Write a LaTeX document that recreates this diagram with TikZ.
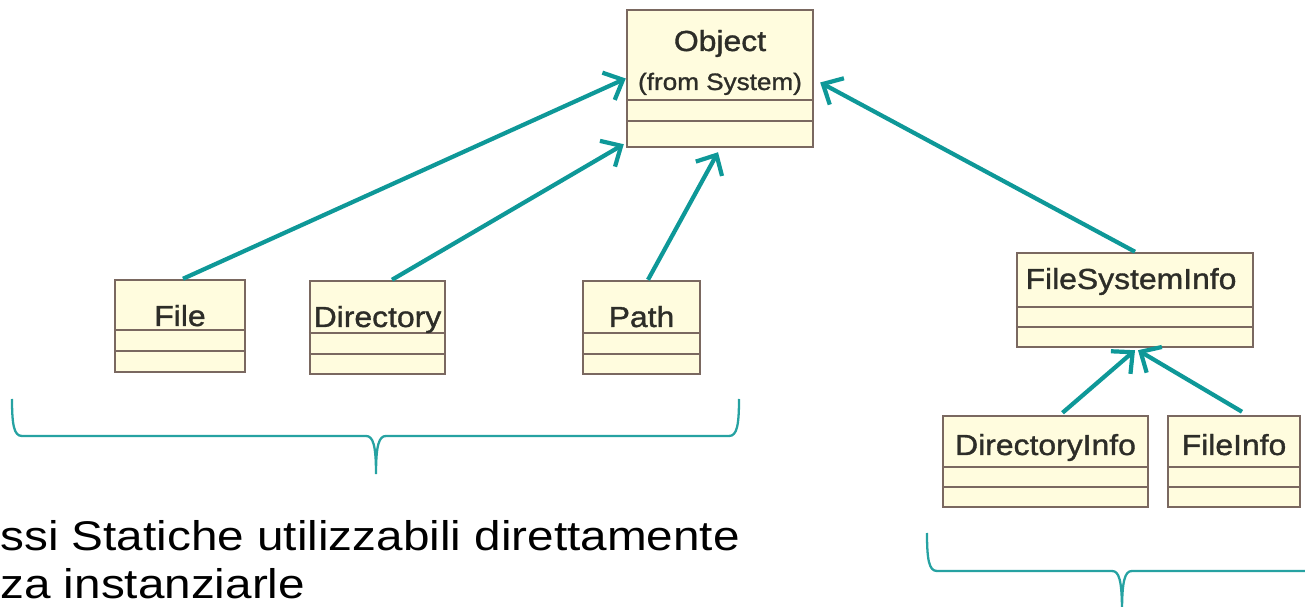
\documentclass[tikz,border=0pt]{standalone}
\usepackage{fontspec}
\setmainfont{Liberation Sans}[FakeStretch=1.15]
\newfontfamily\umlfont{Liberation Sans}[FakeStretch=1.1,FakeBold=1.2]
\usetikzlibrary{arrows.meta,calc,fit}
\definecolor{LinkTeal}{RGB}{14,152,152}
\definecolor{ClassFill}{RGB}{255,252,222}
\definecolor{ClassEdge}{RGB}{122,104,96}
\definecolor{ClassText}{RGB}{45,45,40}

\begin{document}
\begin{tikzpicture}[x=0.02cm,y=-0.02cm,>={Straight Barb[length=9pt,width=17pt]},
  umlbox/.style={draw=ClassEdge,fill=ClassFill,line width=1.4pt,inner sep=0pt},
  umlline/.style={draw=ClassEdge,line width=1.4pt},
  umltext/.style={anchor=base,inner sep=0pt,text=ClassText,font=\umlfont\fontsize{16.5}{19}\selectfont},
  inherit/.style={->,draw=LinkTeal,line width=2.4pt},
  brace/.style={draw=LinkTeal!90!white,line width=1.3pt},
  note/.style={anchor=base west,inner sep=0pt,font=\fontsize{23.6}{28}\selectfont}]
  \clip (0,0) rectangle (1305,607);
  % class boxes
  \node[umlbox,fit={(627,10) (813,147)}] (obj) {};
  \draw[umlline] (obj.west |- 0,100) -- (obj.east |- 0,100) (obj.west |- 0,121) -- (obj.east |- 0,121);
  \node[umltext] (objName) at (720,51) {Object};
  \node[umltext,font=\umlfont\fontsize{13.5}{16}\selectfont] (objFrom) at (720,90) {(from System)};

  \node[umlbox,fit={(115,280) (245,372)}] (file) {};
  \draw[umlline] (file.west |- 0,330) -- (file.east |- 0,330) (file.west |- 0,351) -- (file.east |- 0,351);
  \node[umltext] (fileName) at (180,326) {File};

  \node[umlbox,fit={(310,281) (445,374)}] (dir) {};
  \draw[umlline] (dir.west |- 0,333) -- (dir.east |- 0,333) (dir.west |- 0,354) -- (dir.east |- 0,354);
  \node[umltext] (dirName) at (377.5,327) {Directory};

  \node[umlbox,fit={(583,281) (700,374)}] (path) {};
  \draw[umlline] (path.west |- 0,333) -- (path.east |- 0,333) (path.west |- 0,354) -- (path.east |- 0,354);
  \node[umltext] (pathName) at (641.5,327) {Path};

  \node[umlbox,fit={(1017,253) (1253,347)}] (fsi) {};
  \draw[umlline] (fsi.west |- 0,307) -- (fsi.east |- 0,307) (fsi.west |- 0,327) -- (fsi.east |- 0,327);
  \node[umltext] (fsiName) at (1131,289) {FileSystemInfo};

  \node[umlbox,fit={(943,416) (1148,507)}] (dinfo) {};
  \draw[umlline] (dinfo.west |- 0,467) -- (dinfo.east |- 0,467) (dinfo.west |- 0,487) -- (dinfo.east |- 0,487);
  \node[umltext] (dinfoName) at (1045.5,455) {DirectoryInfo};

  \node[umlbox,fit={(1168,416) (1300,507)}] (finfo) {};
  \draw[umlline] (finfo.west |- 0,467) -- (finfo.east |- 0,467) (finfo.west |- 0,487) -- (finfo.east |- 0,487);
  \node[umltext] (finfoName) at (1234,455) {FileInfo};

  % inheritance
  \draw[inherit] ($(file.north)+(3,0)$) -- (obj.west);
  \draw[inherit] ($(dir.north)+(14.5,0)$) -- ($(obj.south west)+(-2,-4)$);
  \draw[inherit] ($(path.north)+(6.5,0)$) -- ($(obj.south)+(-2,4)$);
  \draw[inherit] (fsi.north) -- ($(obj.east)+(6,4)$);
  \draw[inherit] ($(dinfo.north)+(17,-2)$) -- ($(fsi.south)+(0,2)$);
  \draw[inherit] ($(finfo.north)+(8,-3)$) -- ($(fsi.south)+(3,2)$);

  % braces
  \draw[brace] (12,399) .. controls (12,425) and (14,436) .. (22,436) -- (366,436)
    .. controls (373,436) and (376,445) .. (376,474)
    .. controls (376,445) and (379,436) .. (386,436) -- (729,436)
    .. controls (737,436) and (739,425) .. (739,399);
  \draw[brace] (927,533) .. controls (927,560) and (929,571) .. (937,571) -- (1112,571)
    .. controls (1119,571) and (1122,580) .. (1122,612)
    .. controls (1122,580) and (1125,571) .. (1132,571) -- (1320,571);

  \node[note] (noteA) at (0,551) {ssi Statiche utilizzabili direttamente};
  \node[note] (noteB) at (0,599) {za instanziarle};
\end{tikzpicture}
\end{document}
